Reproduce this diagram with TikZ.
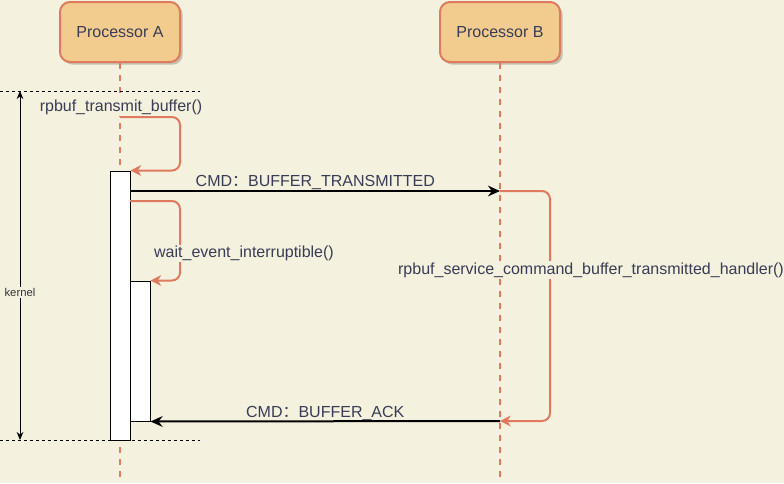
\documentclass[tikz,border=0pt]{standalone}
\usepackage{fontspec}
\setmainfont{Liberation Sans}
\newfontfamily\cjk{Noto Sans CJK SC}
\usetikzlibrary{arrows.meta,shadows}
\definecolor{bg}{RGB}{244,241,222}
\definecolor{pf}{RGB}{242,204,143}
\definecolor{pc}{RGB}{224,122,95}
\definecolor{tc}{RGB}{57,60,86}
\tikzset{proc/.style={draw=pc,line width=1.5pt,fill=pf,rounded corners=7.5pt,minimum width=90pt,minimum height=45pt,text=tc,
  drop shadow={shadow xshift=2pt,shadow yshift=-2pt,fill=black,opacity=.2}},
 act/.style={draw,fill=white,line width=.75pt,minimum width=15pt,inner sep=0pt},
 life/.style={draw=pc,line width=1.5pt,dash pattern=on 4.5pt off 4.5pt},
 guide/.style={line width=.6pt,dash pattern=on 2.25pt off 2.25pt},
 arr/.style={-{Stealth[length=9pt,width=8pt]},line width=1.5pt},
 selfarr/.style={pc,line width=1.5pt,rounded corners=6pt,-{Stealth[length=8pt,width=8pt,inset=2.5pt]}},
 lbl/.style={fill=bg,text=tc,inner sep=1pt},
 msglbl/.style={above,text=tc,inner sep=0pt},
 every node/.style={font=\fontsize{12}{14}\selectfont}}
\begin{document}
\begin{tikzpicture}[x=0.75pt,y=-0.75pt]
\fill[bg] (0,0) rectangle (784,483);
\useasboundingbox (0,0) rectangle (784,483);
\node[proc] (pa) at (120,32) {Processor A};
\node[proc] (pb) at (500,32) {Processor B};
\coordinate (aend) at (120,483);\coordinate (bend) at (500,483);
\draw[life] (pa) -- (aend);\draw[life] (pb) -- (bend);
\node[act,minimum height=201.75pt] (act1) at (120,305.5) {};
\node[act,minimum height=105pt] (act2) at (140,351) {};
\coordinate (g1a) at (0,91);\coordinate (g1b) at (200,91);
\coordinate (g2a) at (0,440);\coordinate (g2b) at (200,440);
\draw[guide] (g1a) -- (g1b);\draw[guide] (g2a) -- (g2b);
\coordinate (ktop) at (20,91);\coordinate (kbot) at (20,440);
\draw[{Stealth[length=6pt,width=5pt]}-{Stealth[length=6pt,width=5pt]},line width=.75pt] (ktop) --
 node[pos=.576,fill=bg,inner sep=1pt,font=\fontsize{8.5}{10}\selectfont,text=black!80] (kl) {kernel} (kbot);
\coordinate (a0) at (120,117);\coordinate (b1) at (500,191);\coordinate (b2) at (500,421);
\coordinate (w0) at (130,201);
\draw[selfarr] (a0) -- (180,117) |- (act1.north east);
\draw[arr] (act1.east |- b1) -- node[msglbl] (m1) {CMD{\cjk ：}BUFFER\_TRANSMITTED} (b1);
\draw[selfarr] (w0) -- (180,201) |- (act2.north east);
\draw[selfarr] (b1) -- (550,191) |- (b2);
\draw[arr] (b2) -- node[msglbl] (m2) {CMD{\cjk ：}BUFFER\_ACK} (act2.south east);
\node[lbl] (t1) at (121,107.5) {rpbuf\_transmit\_buffer()};
\node[lbl] (t2) at (244,253.5) {wait\_event\_interruptible()};
\node[lbl] (t3) at (591,270) {rpbuf\_service\_command\_buffer\_transmitted\_handler()};
\end{tikzpicture}
\end{document}
